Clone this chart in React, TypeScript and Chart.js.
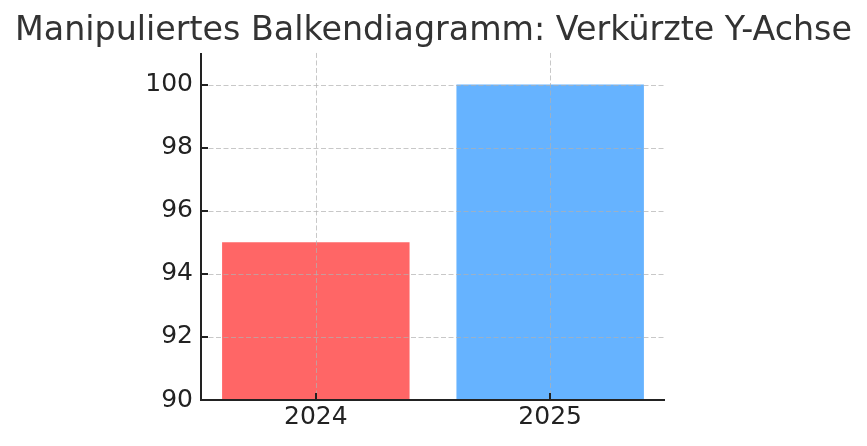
import React, { useEffect, useRef } from "react";
import { Chart, registerables } from "chart.js";

Chart.register(...registerables);

const categories = ["2024", "2025"];
const values = [95, 100];
const barColors = ["#FF6666", "#66B3FF"];
const yMin = 90;
const yMax = 101;
const yStep = 2;
const xMin = -0.49;
const xMax = 1.49;
const titleText = "Manipuliertes Balkendiagramm: Verkürzte Y-Achse";

const overlayPlugin = {
  id: "mplOverlay",
  afterDatasetsDraw(chart: any) {
    const { ctx, chartArea, scales } = chart;
    const xs = scales.x;
    const ys = scales.y;
    ctx.save();
    ctx.strokeStyle = "rgba(176,176,176,0.7)";
    ctx.lineWidth = 1;
    ctx.setLineDash([5, 2.5]);
    ys.ticks.forEach((_t: any, i: number) => {
      const y = Math.round(ys.getPixelForTick(i)) + 0.5;
      ctx.beginPath();
      ctx.moveTo(chartArea.left, y);
      ctx.lineTo(chartArea.right, y);
      ctx.stroke();
    });
    xs.ticks.forEach((_t: any, i: number) => {
      const x = Math.round(xs.getPixelForTick(i)) + 0.5;
      ctx.beginPath();
      ctx.moveTo(x, chartArea.top);
      ctx.lineTo(x, chartArea.bottom);
      ctx.stroke();
    });
    ctx.setLineDash([]);
    ctx.strokeStyle = "#222222";
    ctx.lineWidth = 2;
    ctx.beginPath();
    ctx.moveTo(chartArea.left, chartArea.top);
    ctx.lineTo(chartArea.left, chartArea.bottom);
    ctx.lineTo(chartArea.right, chartArea.bottom);
    ctx.stroke();
    ys.ticks.forEach((_t: any, i: number) => {
      const y = Math.round(ys.getPixelForTick(i));
      ctx.beginPath();
      ctx.moveTo(chartArea.left, y);
      ctx.lineTo(chartArea.left + 7, y);
      ctx.stroke();
    });
    xs.ticks.forEach((_t: any, i: number) => {
      const x = Math.round(xs.getPixelForTick(i));
      ctx.beginPath();
      ctx.moveTo(x, chartArea.bottom);
      ctx.lineTo(x, chartArea.bottom - 7);
      ctx.stroke();
    });
    ctx.restore();
  },
};

export default function App() {
  const ref = useRef<HTMLCanvasElement | null>(null);
  useEffect(() => {
    document.body.style.margin = "0";
    const canvas = ref.current!;
    const chart = new Chart(canvas, {
      type: "bar",
      data: {
        datasets: [
          {
            data: values.map((v, i) => ({ x: i, y: v })),
            backgroundColor: barColors,
            borderWidth: 0,
            barPercentage: 1,
            categoryPercentage: 0.8,
          },
        ],
      },
      options: {
        animation: false,
        responsive: false,
        maintainAspectRatio: false,
        layout: { padding: 0 },
        plugins: {
          legend: { display: false },
          tooltip: { enabled: false },
          title: {
            display: true,
            text: titleText,
            color: "#333333",
            font: { family: "DejaVu Sans", size: 33.3, weight: "normal" },
            padding: { top: 11, bottom: 2 },
          },
        },
        scales: {
          x: {
            type: "linear",
            min: xMin,
            max: xMax,
            offset: false,
            grid: { display: false, drawTicks: false },
            border: { display: false },
            ticks: {
              stepSize: 1,
              includeBounds: false,
              color: "#222222",
              font: { family: "DejaVu Sans", size: 25 },
              padding: 2,
              maxRotation: 0,
              callback: (v: any) => categories[Math.round(Number(v))] ?? "",
            },
            afterFit: (s: any) => {
              s.height = 46;
            },
          },
          y: {
            type: "linear",
            position: "left",
            min: yMin,
            max: yMax,
            grid: { display: false, drawTicks: false },
            border: { display: false },
            ticks: {
              stepSize: yStep,
              includeBounds: false,
              color: "#222222",
              font: { family: "DejaVu Sans", size: 25 },
              padding: 8,
            },
            afterFit: (s: any) => {
              s.width = 201;
            },
          },
          spacer: {
            type: "linear",
            position: "right",
            display: true,
            grid: { display: false, drawTicks: false },
            border: { display: false },
            ticks: { display: false },
            afterFit: (s: any) => {
              s.width = 202;
            },
          },
        },
      },
      plugins: [overlayPlugin],
    });
    return () => chart.destroy();
  }, []);
  return <canvas ref={ref} width={867} height={446} style={{ display: "block" }} />;
}
